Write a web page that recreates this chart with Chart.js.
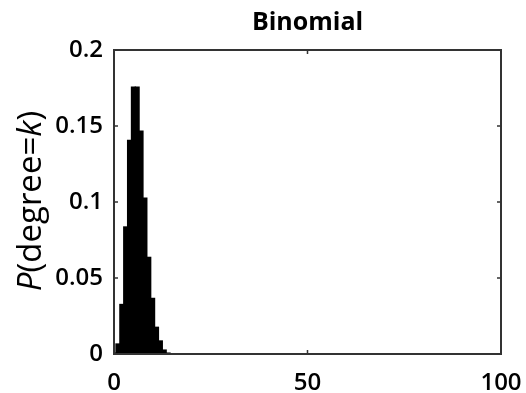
<!DOCTYPE html>
<html>
<head>
<meta charset="utf-8">
<script src="https://cdn.jsdelivr.net/npm/chart.js@4"></script>
<style>
html,body{margin:0;padding:0;background:#fff;}
#wrap{width:526px;height:393px;position:relative;}
</style>
</head>
<body>
<div id="wrap"><canvas id="c" width="526" height="393"></canvas></div>
<script>
const titleText = "Binomial";
const degrees = [0, 1, 2, 3, 4, 5, 6, 7, 8, 9, 10, 11, 12, 13, 14, 15];
const probabilities = [0.001, 0.007, 0.033, 0.084, 0.141, 0.176, 0.176, 0.147, 0.103, 0.064, 0.037, 0.018, 0.009, 0.003, 0.001, 0.0004];
const xTicks = [0, 50, 100];
const yTicks = [0, 0.05, 0.1, 0.15, 0.2];

const points = degrees.map((k, i) => ({x: k, y: probabilities[i]}));

const framePlugin = {
  id: 'frame',
  afterDraw(chart) {
    const ctx = chart.ctx;
    const a = chart.chartArea;
    const xs = chart.scales.x, ys = chart.scales.y;
    ctx.save();
    ctx.strokeStyle = '#333';
    ctx.lineWidth = 2;
    ctx.strokeRect(a.left, a.top, a.right - a.left, a.bottom - a.top);
    ctx.lineWidth = 1.5;
    ctx.beginPath();
    yTicks.forEach(v => {
      const y = ys.getPixelForValue(v);
      ctx.moveTo(a.left, y); ctx.lineTo(a.left + 4, y);
      ctx.moveTo(a.right, y); ctx.lineTo(a.right - 4, y);
    });
    xTicks.forEach(v => {
      const x = xs.getPixelForValue(v);
      ctx.moveTo(x, a.bottom); ctx.lineTo(x, a.bottom - 4);
      ctx.moveTo(x, a.top); ctx.lineTo(x, a.top + 4);
    });
    ctx.stroke();
    // title
    ctx.fillStyle = '#000';
    ctx.font = 'bold 25px "Open Sans"';
    ctx.textAlign = 'center';
    ctx.textBaseline = 'middle';
    ctx.fillText(titleText, (a.left + a.right) / 2, 23);
    // y label with mixed italic
    const parts = [
      {t: 'P', f: 'italic 33px "Open Sans"'},
      {t: '(degree=', f: '33px "Open Sans"'},
      {t: 'k', f: 'italic 33px "Open Sans"'},
      {t: ')', f: '33px "Open Sans"'}
    ];
    let total = 0;
    parts.forEach(p => { ctx.font = p.f; p.w = ctx.measureText(p.t).width; total += p.w; });
    ctx.translate(41, 201);
    ctx.rotate(-Math.PI / 2);
    ctx.textAlign = 'left';
    ctx.textBaseline = 'alphabetic';
    let x = -total / 2;
    parts.forEach(p => { ctx.font = p.f; ctx.fillText(p.t, x, 0); x += p.w; });
    ctx.restore();
  }
};

new Chart(document.getElementById('c'), {
  type: 'bar',
  data: {
    datasets: [{
      data: points,
      backgroundColor: '#000',
      borderWidth: 0,
      barPercentage: 1.3,
      categoryPercentage: 1.0
    }]
  },
  options: {
    responsive: false,
    animation: false,
    layout: {padding: {top: 50, right: 25, left: 0, bottom: 0}},
    plugins: {legend: {display: false}, tooltip: {enabled: false}, title: {display: false}},
    scales: {
      x: {
        type: 'linear', min: 0, max: 100, offset: false,
        grid: {display: false, drawTicks: false, offset: false},
        border: {display: false},
        afterBuildTicks: s => { s.ticks = xTicks.map(v => ({value: v})); },
        afterFit: s => { s.height = 39; s.paddingLeft = 0; s.paddingRight = 0; },
        ticks: {color: '#000', font: {family: 'Open Sans', size: 24, weight: '600'}, padding: 15, maxRotation: 0, autoSkip: false}
      },
      y: {
        min: 0, max: 0.2,
        grid: {display: false, drawTicks: false},
        border: {display: false},
        afterBuildTicks: s => { s.ticks = yTicks.map(v => ({value: v})); },
        afterFit: s => { s.width = 114; s.paddingTop = 0; s.paddingBottom = 0; },
        ticks: {color: '#000', font: {family: 'Open Sans', size: 24, weight: '600'}, padding: 11,
          callback: v => String(v)}
      }
    }
  },
  plugins: [framePlugin]
});
</script>
</body>
</html>
